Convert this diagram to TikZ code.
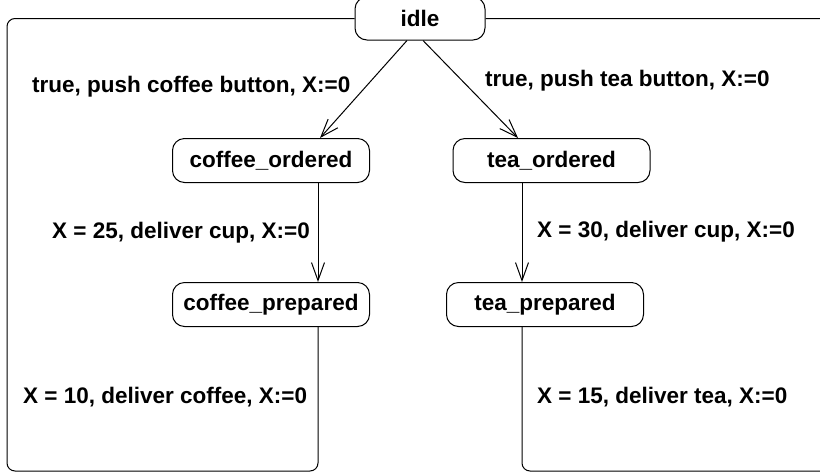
\documentclass[tikz,border=0pt]{standalone}
\usepackage{fontspec}
\setmainfont{Liberation Sans}
\usetikzlibrary{arrows.meta}
\newcommand{\widthstate}{197pt}
\newcommand{\widthidle}{130pt}
\newcommand{\heightstate}{44pt}
\tikzset{
    common/.style={font=\fontsize{22.5}{27}\selectfont\bfseries},
    state/.style={common, draw, line width=1pt, rounded corners=12pt, minimum width=\widthstate, minimum height=\heightstate, inner sep=0pt},
    idlestate/.style={state, minimum width=\widthidle, minimum height=43pt},
    guard/.style={common, inner sep=0pt},
    trans/.style={line width=1pt, -{Straight Barb[length=18pt, width=13pt]}},
    back/.style={line width=1pt, rounded corners=8pt}
}

\begin{document}
\begin{tikzpicture}[x=1pt, y=-1pt]
            \useasboundingbox (0,0) rectangle (820,475);
            \clip (0,0) rectangle (820,475);

            \node[idlestate] (idle) at (420,18.5) {idle};
            \node[state] (coffee-ordered) at (271,160.5) {coffee\_ordered};
            \node[state] (tea-ordered) at (551.5,160.5) {tea\_ordered};
            \node[state] (coffee-prepared) at (271,304.5) {coffee\_prepared};
            \node[state] (tea-prepared) at (545,304.5) {tea\_prepared};

            \node[guard, anchor=base west] (g-coffee) at (32,92) {true, push coffee button, X:=0};
            \node[guard, anchor=base west] (g-tea) at (485,86) {true, push tea button, X:=0};
            \node[guard, anchor=base east] (g-cup-coffee) at (310,238) {X = 25, deliver cup, X:=0};
            \node[guard, anchor=base west] (g-cup-tea) at (537,237) {X = 30, deliver cup, X:=0};
            \node[guard, anchor=base west] (g-done-coffee) at (23,403) {X = 10, deliver coffee, X:=0};
            \node[guard, anchor=base west] (g-done-tea) at (537,403) {X = 15, deliver tea, X:=0};

            \coordinate (sw) at (7,471);
            \coordinate (se) at (850,471);

            \draw[trans] ([xshift=-13pt]idle.south) -- ([xshift=49pt]coffee-ordered.north);
            \draw[trans] ([xshift=3pt]idle.south) -- ([xshift=-33.5pt]tea-ordered.north);
            \draw[trans] ([xshift=47pt]coffee-ordered.south) -- ([xshift=47pt]coffee-ordered.south |- coffee-prepared.north);
            \draw[trans] ([xshift=-29.5pt]tea-ordered.south) -- ([xshift=-29.5pt]tea-ordered.south |- tea-prepared.north);

            \draw[back] ([xshift=47pt]coffee-prepared.south) |- (sw) |- (idle.west);
            \draw[back] ([xshift=-23pt]tea-prepared.south) |- (se) |- (idle.east);
        \end{tikzpicture}
\end{document}
